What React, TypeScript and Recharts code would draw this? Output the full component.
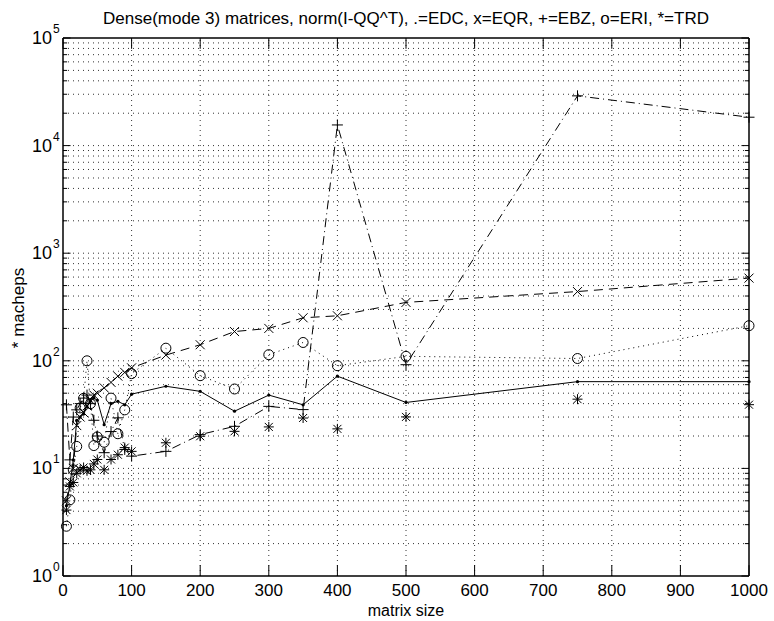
import React from "react";
import {
  LineChart,
  Line,
  XAxis,
  YAxis,
  ReferenceLine,
} from "recharts";

// matrix sizes used for every series
const sizes = [5, 10, 15, 20, 25, 30, 35, 40, 45, 50, 60, 70, 80, 90, 100, 150, 200, 250, 300, 350, 400, 500, 750, 1000];

const edc = [4.5, 7, 12, 28, 30, 32, 38, 42, 45, 43, 25.5, 40, 42, 39, 49, 58, 52, 34, 48, 39, 72, 41, 64, 64];
const eqr = [5, 7.5, 10, 25, 30, 33, 38, 43, 48, 50, 56, 63, 72, 78, 86, 113, 141, 187, 200, 251, 262, 349, 440, 587];
const ebz = [39, 12, 30, 35, 40, 45, 48, 40, 28, 20, 14, 22, 29.5, 15, 13, 14.4, 20.6, 24.6, 37.7, 35.2, 15560, 92, 29000, 18360];
const eri = [2.9, 5.1, 9.7, 16, 36.5, 44.8, 100, 40, 16.3, 19.6, 17.5, 45, 21, 35, 76, 131, 72.7, 54.7, 114, 148, 90, 110, 105, 212];
const trd = [4.1, 6.8, 7.4, 9, 9.7, 10.2, 9.5, 9.7, 11, 12.1, 9.7, 12.1, 13.4, 15.6, 14.4, 17.3, 19.9, 22.1, 24.3, 29.4, 23.3, 30.1, 44, 39.1];

const xTicks = [0, 100, 200, 300, 400, 500, 600, 700, 800, 900, 1000];
const yTicks = [1, 10, 100, 1000, 10000, 100000];

const toRows = (vals: number[]) => sizes.map((n, i) => ({ n, v: vals[i] }));

const minorY: number[] = [];
for (let e = 0; e < 5; e++) {
  for (let m = 2; m <= 9; m++) minorY.push(m * Math.pow(10, e));
}

const FONT = "'Liberation Sans', Arial, sans-serif";

const DotMark = (props: any) => {
  const { cx, cy } = props;
  if (cx == null || cy == null) return null;
  return <circle cx={cx} cy={cy} r={1.6} fill="#000" />;
};

const XMark = (props: any) => {
  const { cx, cy } = props;
  if (cx == null || cy == null) return null;
  const s = 4.5;
  return (
    <g stroke="#000" strokeWidth={1}>
      <line x1={cx - s} y1={cy - s} x2={cx + s} y2={cy + s} />
      <line x1={cx - s} y1={cy + s} x2={cx + s} y2={cy - s} />
    </g>
  );
};

const PlusMark = (props: any) => {
  const { cx, cy } = props;
  if (cx == null || cy == null) return null;
  const s = 5.5;
  return (
    <g stroke="#000" strokeWidth={1}>
      <line x1={cx - s} y1={cy} x2={cx + s} y2={cy} />
      <line x1={cx} y1={cy - s} x2={cx} y2={cy + s} />
    </g>
  );
};

const CircleMark = (props: any) => {
  const { cx, cy } = props;
  if (cx == null || cy == null) return null;
  return <circle cx={cx} cy={cy} r={5} fill="none" stroke="#000" strokeWidth={1} />;
};

const StarMark = (props: any) => {
  const { cx, cy } = props;
  if (cx == null || cy == null) return null;
  const s = 5;
  const d = 4;
  return (
    <g stroke="#000" strokeWidth={1}>
      <line x1={cx - s} y1={cy} x2={cx + s} y2={cy} />
      <line x1={cx} y1={cy - s} x2={cx} y2={cy + s} />
      <line x1={cx - d} y1={cy - d} x2={cx + d} y2={cy + d} />
      <line x1={cx - d} y1={cy + d} x2={cx + d} y2={cy - d} />
    </g>
  );
};

const LogTick = (props: any) => {
  const { x, y, payload } = props;
  const exp = Math.round(Math.log10(payload.value));
  return (
    <g>
      <text x={x - 3} y={y + 6} textAnchor="end" fontSize={18} fontFamily={FONT} fill="#000">
        10
      </text>
      <text x={x - 2} y={y - 5} textAnchor="start" fontSize={12} fontFamily={FONT} fill="#000">
        {exp}
      </text>
    </g>
  );
};

const gridStyle = { stroke: "#333", strokeDasharray: "1 4", strokeWidth: 1 };

export default function App() {
  return (
    <div style={{ width: 774, height: 621, overflow: "hidden" }}>
      <style>{"body{margin:0;overflow:hidden}"}</style>
      <LineChart
        width={774}
        height={621}
        margin={{ top: 38, right: 25, bottom: 15, left: 18 }}
        style={{ background: "#fff" }}
      >
        <XAxis
          dataKey="n"
          type="number"
          domain={[0, 1000]}
          ticks={xTicks}
          allowDuplicatedCategory={false}
          tickLine={false}
          axisLine={{ stroke: "#000", strokeWidth: 1.5 }}
          tick={{ fill: "#000", fontSize: 17, fontFamily: FONT }}
          tickMargin={2}
          height={30}
        />
        <YAxis
          dataKey="v"
          type="number"
          scale="log"
          domain={[1, 100000]}
          ticks={yTicks}
          allowDataOverflow
          tickLine={false}
          axisLine={{ stroke: "#000", strokeWidth: 1.5 }}
          tick={<LogTick />}
          width={45}
        />

        {/* dotted grid */}
        {minorY.map((v) => (
          <ReferenceLine key={"gy" + v} y={v} {...gridStyle} />
        ))}
        {yTicks.slice(1, -1).map((v) => (
          <ReferenceLine key={"gmy" + v} y={v} {...gridStyle} />
        ))}
        {xTicks.slice(1, -1).map((v) => (
          <ReferenceLine key={"gx" + v} x={v} {...gridStyle} />
        ))}

        {/* inward ticks */}
        {minorY.map((v) => (
          <ReferenceLine key={"tl" + v} segment={[{ x: 0, y: v }, { x: 6, y: v }]} stroke="#000" />
        ))}
        {minorY.map((v) => (
          <ReferenceLine key={"tr" + v} segment={[{ x: 994, y: v }, { x: 1000, y: v }]} stroke="#000" />
        ))}
        {yTicks.map((v) => (
          <ReferenceLine key={"ml" + v} segment={[{ x: 0, y: v }, { x: 11, y: v }]} stroke="#000" />
        ))}
        {yTicks.map((v) => (
          <ReferenceLine key={"mr" + v} segment={[{ x: 989, y: v }, { x: 1000, y: v }]} stroke="#000" />
        ))}
        {xTicks.map((v) => (
          <ReferenceLine key={"tb" + v} segment={[{ x: v, y: 1 }, { x: v, y: 1.26 }]} stroke="#000" />
        ))}
        {xTicks.map((v) => (
          <ReferenceLine key={"tt" + v} segment={[{ x: v, y: 100000 }, { x: v, y: 79400 }]} stroke="#000" />
        ))}

        {/* box */}
        <ReferenceLine y={100000} stroke="#000" strokeWidth={1.5} />
        <ReferenceLine x={1000} stroke="#000" strokeWidth={1.5} />

        <Line data={toRows(eri)} dataKey="v" stroke="#000" strokeWidth={1} strokeDasharray="1 4" dot={<CircleMark />} isAnimationActive={false} />
        <Line data={toRows(ebz)} dataKey="v" stroke="#000" strokeWidth={1} strokeDasharray="9 4 1 4" dot={<PlusMark />} isAnimationActive={false} />
        <Line data={toRows(eqr)} dataKey="v" stroke="#000" strokeWidth={1} strokeDasharray="9 6" dot={<XMark />} isAnimationActive={false} />
        <Line data={toRows(edc)} dataKey="v" stroke="#000" strokeWidth={1} dot={<DotMark />} isAnimationActive={false} />
        <Line data={toRows(trd)} dataKey="v" stroke="none" dot={<StarMark />} isAnimationActive={false} />

        <text x={406} y={24} textAnchor="middle" fontSize={17} fontFamily={FONT} fill="#000">
          Dense(mode 3) matrices, norm(I-QQ^T), .=EDC, x=EQR, +=EBZ, o=ERI, *=TRD
        </text>
        <text x={406} y={616} textAnchor="middle" fontSize={16} fontFamily={FONT} fill="#000">
          matrix size
        </text>
        <text
          x={0}
          y={0}
          transform="translate(24, 308) rotate(-90)"
          textAnchor="middle"
          fontSize={17}
          fontFamily={FONT}
          fill="#000"
        >
          * macheps
        </text>
      </LineChart>
    </div>
  );
}
